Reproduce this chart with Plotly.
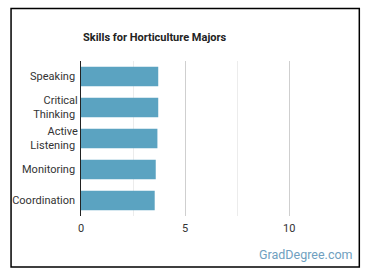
import plotly.graph_objects as go

skills = ["Speaking", "Critical<br>Thinking", "Active<br>Listening", "Monitoring", "Coordination"]
values = [3.71, 3.71, 3.67, 3.59, 3.54]
x_ticks = [0, 5, 10]

W, H = 370, 278
L, R, T, B = 79, 35, 61, 62
pw, ph = W - L - R, H - T - B

def px(x):
    return (x - L) / pw

def py(y):
    return (H - B - y) / ph

fig = go.Figure(go.Bar(
    y=skills, x=values, orientation="h",
    marker=dict(color="#5ba3c1", line=dict(width=0)),
))

fig.update_layout(
    width=W, height=H,
    margin=dict(l=L, r=R, t=T, b=B),
    paper_bgcolor="white", plot_bgcolor="white",
    bargap=0.37,
    showlegend=False,
    font=dict(family="Roboto", size=11, color="#333"),
    xaxis=dict(
        range=[0, 12.2], tickvals=x_ticks, showgrid=True, gridcolor="#cfcfcf",
        gridwidth=1, zeroline=False, ticks="", ticklen=0, ticklabelstandoff=4,
        tickfont=dict(size=11, color="#333"),
        minor=dict(tickvals=[2.5, 7.5], showgrid=True, gridcolor="#ececec", gridwidth=1),
    ),
    yaxis=dict(
        autorange="reversed", showline=True, linecolor="#222", linewidth=1,
        ticks="", ticksuffix=" ", tickfont=dict(size=11, color="#333"),
        showgrid=False,
    ),
    annotations=[
        dict(text="<b>Skills for Horticulture Majors</b>", x=px(79), y=py(38),
             xref="paper", yref="paper", xanchor="left", yanchor="middle",
             showarrow=False, font=dict(size=11, color="#222")),
        dict(text="GradDegree.com", x=px(355), y=py(255),
             xref="paper", yref="paper", xanchor="right", yanchor="middle",
             showarrow=False, font=dict(size=12.5, color="#6f9fc0")),
    ],
    shapes=[
        dict(type="rect", xref="paper", yref="paper",
             x0=px(8.5), x1=px(359.5), y0=py(267), y1=py(8.5),
             line=dict(color="black", width=1.5), fillcolor="rgba(0,0,0,0)"),
    ],
)

fig.write_html("out.html")
